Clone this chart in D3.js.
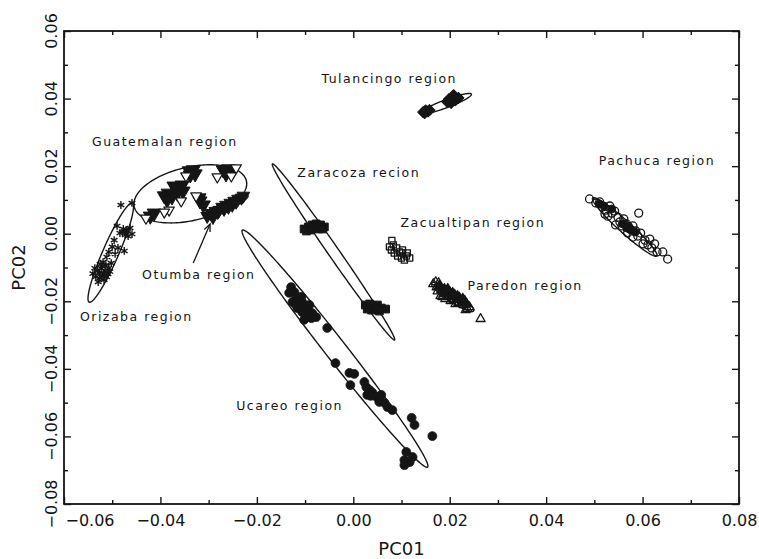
<!DOCTYPE html>
<html>
<head>
<meta charset="utf-8">
<script src="https://cdn.jsdelivr.net/npm/d3@7"></script>
<style>
  body { margin: 0; background: #fff; }
  svg { display: block; }
</style>
</head>
<body>
<svg id="chart" width="759" height="559"></svg>
<script>
// ---- Axis ticks ----
const xMajorTicks = [-0.06, -0.04, -0.02, 0.00, 0.02, 0.04, 0.06, 0.08];
const xMinorTicks = [-0.05, -0.03, -0.01, 0.01, 0.03, 0.05, 0.07];
const yMajorTicks = [-0.08, -0.06, -0.04, -0.02, 0.00, 0.02, 0.04, 0.06];
const yMinorTicks = [-0.07, -0.05, -0.03, -0.01, 0.01, 0.03, 0.05];

// ---- PC scores per source region: [PC01, PC02] ----
const orizaba = [
  [-0.0482, 0.0085], [-0.0459, 0.0091], [-0.0490, 0.0023], [-0.0477, 0.0014], [-0.0469, 0.0008],
  [-0.0463, 0.0017], [-0.0473, -0.0004], [-0.0484, 0.0002], [-0.0459, -0.0001], [-0.0467, -0.0007],
  [-0.0496, -0.0019], [-0.0500, -0.0039], [-0.0488, -0.0042], [-0.0475, -0.0051], [-0.0507, -0.0054],
  [-0.0494, -0.0060], [-0.0511, -0.0069], [-0.0519, -0.0084], [-0.0513, -0.0093], [-0.0507, -0.0102],
  [-0.0523, -0.0102], [-0.0515, -0.0110], [-0.0527, -0.0116], [-0.0521, -0.0125], [-0.0534, -0.0128],
  [-0.0502, -0.0087], [-0.0529, -0.0143], [-0.0517, -0.0137], [-0.0536, -0.0102], [-0.0509, -0.0119],
  [-0.0525, -0.0090], [-0.0530, -0.0110], [-0.0518, -0.0118], [-0.0512, -0.0128], [-0.0540, -0.0118],
  [-0.0505, -0.0112], [-0.0471, 0.0011], [-0.0479, 0.0005], [-0.0520, -0.0096], [-0.0526, -0.0132]
];
const guatemalanFilled = [
  [-0.0340, 0.0186], [-0.0332, 0.0189], [-0.0328, 0.0177], [-0.0338, 0.0174], [-0.0270, 0.0189],
  [-0.0259, 0.0192], [-0.0251, 0.0183], [-0.0264, 0.0177], [-0.0392, 0.0112], [-0.0384, 0.0120],
  [-0.0376, 0.0109], [-0.0386, 0.0100], [-0.0367, 0.0132], [-0.0359, 0.0138], [-0.0353, 0.0126],
  [-0.0365, 0.0120], [-0.0372, 0.0141], [-0.0318, 0.0097], [-0.0311, 0.0085], [-0.0320, 0.0106],
  [-0.0421, 0.0052], [-0.0413, 0.0061], [-0.0355, 0.0144]
];
const guatemalanOpen = [
  [-0.0243, 0.0195], [-0.0282, 0.0168], [-0.0253, 0.0171], [-0.0326, 0.0112], [-0.0357, 0.0097],
  [-0.0382, 0.0070], [-0.0392, 0.0064], [-0.0430, 0.0046], [-0.0347, 0.0171]
];
const otumba = [
  [-0.0303, 0.0052], [-0.0295, 0.0061], [-0.0286, 0.0067], [-0.0278, 0.0070], [-0.0272, 0.0079],
  [-0.0264, 0.0085], [-0.0255, 0.0091], [-0.0247, 0.0097], [-0.0239, 0.0103], [-0.0232, 0.0106],
  [-0.0291, 0.0049], [-0.0268, 0.0073], [-0.0251, 0.0085], [-0.0228, 0.0112], [-0.0259, 0.0079],
  [-0.0243, 0.0094], [-0.0281, 0.0064]
];
const zaragoza = [
  [-0.0102, 0.0014], [-0.0093, 0.0020], [-0.0085, 0.0026], [-0.0077, 0.0029], [-0.0068, 0.0026],
  [-0.0060, 0.0020], [-0.0089, 0.0011], [-0.0072, 0.0014], [-0.0064, 0.0014], [-0.0097, 0.0008],
  [-0.0081, 0.0017],
  [0.0025, -0.0211], [0.0034, -0.0208], [0.0042, -0.0214], [0.0050, -0.0211], [0.0058, -0.0220],
  [0.0067, -0.0223], [0.0038, -0.0226], [0.0046, -0.0223], [0.0029, -0.0223], [0.0054, -0.0229]
];
const ucareo = [
  [-0.0129, -0.0158], [-0.0133, -0.0175], [-0.0122, -0.0173], [-0.0118, -0.0190], [-0.0112, -0.0205],
  [-0.0106, -0.0202], [-0.0116, -0.0220], [-0.0106, -0.0232], [-0.0095, -0.0226], [-0.0097, -0.0247],
  [-0.0087, -0.0250], [-0.0077, -0.0247], [-0.0108, -0.0187], [-0.0126, -0.0202], [-0.0085, -0.0235],
  [-0.0091, -0.0211], [-0.0102, -0.0255], [-0.0054, -0.0279], [-0.0037, -0.0383], [-0.0008, -0.0412],
  [0.0002, -0.0415], [-0.0006, -0.0448], [0.0023, -0.0439], [0.0027, -0.0454], [0.0034, -0.0463],
  [0.0040, -0.0471], [0.0048, -0.0483], [0.0029, -0.0477], [0.0054, -0.0498], [0.0065, -0.0501],
  [0.0071, -0.0513], [0.0081, -0.0522], [0.0058, -0.0477], [0.0121, -0.0545], [0.0127, -0.0566],
  [0.0164, -0.0599], [0.0110, -0.0646], [0.0106, -0.0670], [0.0117, -0.0676], [0.0106, -0.0685],
  [0.0123, -0.0661], [-0.0114, -0.0196], [-0.0100, -0.0217], [-0.0120, -0.0208], [0.0036, -0.0480]
];
const tulancingo = [
  [0.0145, 0.0360], [0.0150, 0.0365], [0.0155, 0.0362], [0.0148, 0.0357], [0.0158, 0.0366],
  [0.0195, 0.0390], [0.0200, 0.0395], [0.0205, 0.0400], [0.0210, 0.0405], [0.0212, 0.0395],
  [0.0203, 0.0387], [0.0218, 0.0402], [0.0208, 0.0410], [0.0198, 0.0398]
];
const zacualtipan = [
  [0.0083, -0.0033], [0.0079, -0.0048], [0.0090, -0.0042], [0.0096, -0.0054], [0.0085, -0.0057],
  [0.0102, -0.0057], [0.0092, -0.0066], [0.0110, -0.0066], [0.0100, -0.0072], [0.0117, -0.0072],
  [0.0106, -0.0078], [0.0075, -0.0039], [0.0112, -0.0057], [0.0102, -0.0048], [0.0080, -0.0020]
];
const paredonOpen = [
  [0.0166, -0.0149], [0.0173, -0.0158], [0.0175, -0.0170], [0.0187, -0.0178], [0.0198, -0.0187],
  [0.0208, -0.0196], [0.0218, -0.0205], [0.0229, -0.0211], [0.0241, -0.0217], [0.0237, -0.0223],
  [0.0181, -0.0184], [0.0191, -0.0193], [0.0171, -0.0143], [0.0177, -0.0146], [0.0233, -0.0226],
  [0.0212, -0.0208], [0.0202, -0.0199], [0.0185, -0.0187], [0.0264, -0.0252]
];
const paredonFilled = [
  [0.0179, -0.0155], [0.0183, -0.0167], [0.0189, -0.0164], [0.0193, -0.0175], [0.0200, -0.0173],
  [0.0204, -0.0184], [0.0210, -0.0181], [0.0214, -0.0193], [0.0220, -0.0190], [0.0225, -0.0202],
  [0.0231, -0.0199], [0.0235, -0.0208], [0.0196, -0.0164], [0.0206, -0.0176], [0.0216, -0.0185],
  [0.0227, -0.0193]
];
const pachucaOpen = [
  [0.0490, 0.0103], [0.0503, 0.0091], [0.0511, 0.0094], [0.0517, 0.0079], [0.0524, 0.0070],
  [0.0532, 0.0082], [0.0536, 0.0061], [0.0528, 0.0052], [0.0542, 0.0067], [0.0549, 0.0049],
  [0.0553, 0.0035], [0.0561, 0.0044], [0.0557, 0.0023], [0.0567, 0.0029], [0.0574, 0.0014],
  [0.0580, 0.0023], [0.0586, 0.0008], [0.0569, 0.0002], [0.0590, -0.0007], [0.0596, 0.0002],
  [0.0605, -0.0019], [0.0601, -0.0030], [0.0611, -0.0033], [0.0619, -0.0042], [0.0625, -0.0030],
  [0.0630, -0.0054], [0.0642, -0.0054], [0.0652, -0.0075], [0.0592, 0.0061], [0.0544, 0.0026],
  [0.0522, 0.0058], [0.0580, -0.0010], [0.0615, -0.0016]
];
const pachucaFilled = [
  [0.0567, 0.0017], [0.0576, 0.0011], [0.0559, 0.0029], [0.0536, 0.0073], [0.0584, 0.0005],
  [0.0520, 0.0082], [0.0571, 0.0022], [0.0510, 0.0088]
];

// ---- Group ellipses: centre and two conjugate half-axes, in PC units ----
const ellipseRegion = ["Guatemalan", "Otumba", "Orizaba", "Zaragoza", "Ucareo", "Tulancingo", "Paredon", "Pachuca"];
const ellipseCentre = [[-0.0338, 0.0118], [-0.0264, 0.0082], [-0.0503, -0.0056], [-0.0041, -0.0054],
                       [-0.0038, -0.0340], [0.0193, 0.0385], [0.0206, -0.0187], [0.0563, 0.0020]];
const ellipseMajor  = [[0.01163, 0.00385], [0.00457, 0.00296], [0.00447, 0.01465], [0.01267, -0.02605],
                       [0.01921, -0.03507], [0.0052, 0.0028], [0.00436, -0.00414], [0.00665, -0.00858]];
const ellipseMinor  = [[0.00125, -0.0077], [0.00034, -0.00107], [0.00152, -0.00095], [0.00093, 0.00092],
                       [0.00172, 0.00192], [0.0003, -0.0011], [-0.00058, -0.00124], [-0.00083, -0.0013]];

// ---- Region names and where they are written (PC units, text start / baseline) ----
const labelText = ["Tulancingo region", "Guatemalan region", "Zaracoza recion", "Zacualtipan region",
                   "Pachuca region", "Paredon region", "Otumba region", "Orizaba region", "Ucareo region"];
const labelAnchor = [[-0.0066, 0.0446], [-0.0542, 0.0260], [-0.0116, 0.0168], [0.0098, 0.0020],
                     [0.0509, 0.0203], [0.0237, -0.0167], [-0.0438, -0.0134], [-0.0567, -0.0258],
                     [-0.0243, -0.0522]];
const otumbaArrow = [[-0.0332, -0.0087], [-0.0297, 0.0029]];

// ---- Layout ----
const INK = "#151515";
const svg = d3.select("#chart");
const x = d3.scaleLinear().domain([-0.06, 0.08]).range([64, 739]);
const y = d3.scaleLinear().domain([-0.08, 0.06]).range([504, 31]);
const [x0, x1] = x.range();
const [y0, y1] = y.range();

svg.append("rect").attr("width", 759).attr("height", 559).attr("fill", "#fff");

// ---- Ellipses ----
const ellipseLine = d3.line().curve(d3.curveLinearClosed);
ellipseRegion.forEach((name, i) => {
  const [cx, cy] = ellipseCentre[i], [ux, uy] = ellipseMajor[i], [vx, vy] = ellipseMinor[i];
  const pts = d3.range(0, 2 * Math.PI, Math.PI / 90).map(t => [
    x(cx + ux * Math.cos(t) + vx * Math.sin(t)),
    y(cy + uy * Math.cos(t) + vy * Math.sin(t))
  ]);
  svg.append("path").attr("class", "ellipse " + name)
    .attr("d", ellipseLine(pts))
    .attr("fill", "none").attr("stroke", INK).attr("stroke-width", 1.4);
});

// ---- Point groups ----
const groups = [
  { pts: orizaba, type: d3.symbolAsterisk, size: 42, fill: "none", stroke: INK, sw: 1.4, rot: 0 },
  { pts: guatemalanFilled, type: d3.symbolTriangle, size: 85, fill: INK, stroke: INK, sw: 1, rot: 180 },
  { pts: otumba, type: d3.symbolTriangle, size: 70, fill: INK, stroke: INK, sw: 1, rot: 180 },
  { pts: guatemalanOpen, type: d3.symbolTriangle, size: 48, fill: "#fff", stroke: INK, sw: 1.2, rot: 180 },
  { pts: zaragoza, type: d3.symbolSquare, size: 60, fill: INK, stroke: INK, sw: 1, rot: 0 },
  { pts: ucareo, type: d3.symbolCircle, size: 62, fill: INK, stroke: INK, sw: 0.8, rot: 0 },
  { pts: tulancingo, type: d3.symbolSquare, size: 60, fill: INK, stroke: INK, sw: 1, rot: 45 },
  { pts: zacualtipan, type: d3.symbolSquare, size: 38, fill: "none", stroke: INK, sw: 1.3, rot: 0 },
  { pts: paredonFilled, type: d3.symbolTriangle, size: 42, fill: INK, stroke: INK, sw: 1.2, rot: 0 },
  { pts: paredonOpen, type: d3.symbolTriangle, size: 36, fill: "none", stroke: INK, sw: 1.3, rot: 0 },
  { pts: pachucaFilled, type: d3.symbolCircle, size: 50, fill: INK, stroke: INK, sw: 0.8, rot: 0 },
  { pts: pachucaOpen, type: d3.symbolCircle, size: 50, fill: "none", stroke: INK, sw: 1.3, rot: 0 }
];
groups.forEach(g => {
  const sym = d3.symbol().type(g.type).size(g.size);
  svg.append("g").selectAll("path").data(g.pts).join("path")
    .attr("d", sym)
    .attr("transform", d => `translate(${x(d[0])},${y(d[1])}) rotate(${g.rot})`)
    .attr("fill", g.fill).attr("stroke", g.stroke).attr("stroke-width", g.sw)
    .attr("stroke-linejoin", "round");
});

// ---- Region labels and arrow ----
svg.append("g").selectAll("text").data(labelText).join("text")
  .attr("x", (d, i) => x(labelAnchor[i][0]))
  .attr("y", (d, i) => y(labelAnchor[i][1]))
  .attr("font-family", "DejaVu Sans")
  .attr("font-size", 12.5).attr("letter-spacing", 1.5)
  .attr("fill", INK)
  .text(d => d);

const ax0 = x(otumbaArrow[0][0]), ay0 = y(otumbaArrow[0][1]);
const ax1 = x(otumbaArrow[1][0]), ay1 = y(otumbaArrow[1][1]);
svg.append("line").attr("x1", ax0).attr("y1", ay0).attr("x2", ax1).attr("y2", ay1)
  .attr("stroke", INK).attr("stroke-width", 1.3);
const ang = Math.atan2(ay1 - ay0, ax1 - ax0);
const head = [ang - 0.4, ang + 0.4].map(a => [ax1 - 8 * Math.cos(a), ay1 - 8 * Math.sin(a)]);
svg.append("path").attr("d", `M${head[0]}L${ax1},${ay1}L${head[1]}`)
  .attr("fill", "none").attr("stroke", INK).attr("stroke-width", 1.3);

// ---- Frame and inward ticks on all four sides ----
const fmt = d3.format(".2f");
function tickAxis(axis, tx, ty, values, len, labels) {
  const g = svg.append("g").attr("transform", `translate(${tx},${ty})`)
    .call(axis.tickValues(values).tickSize(-len).tickPadding(11)
      .tickFormat(labels ? fmt : () => ""));
  g.select(".domain").remove();
  g.selectAll("line").attr("stroke", INK).attr("stroke-width", 1.4);
  g.selectAll("text").attr("font-family", "DejaVu Sans").attr("font-size", 16).attr("fill", INK);
  return g;
}
const bottom = tickAxis(d3.axisBottom(x), 0, y0, xMajorTicks, 7, true);
tickAxis(d3.axisBottom(x), 0, y0, xMinorTicks, 4, false);
tickAxis(d3.axisTop(x), 0, y1, xMajorTicks, 7, false);
tickAxis(d3.axisTop(x), 0, y1, xMinorTicks, 4, false);
tickAxis(d3.axisLeft(y), x0, 0, yMajorTicks, 7, false);
tickAxis(d3.axisLeft(y), x0, 0, yMinorTicks, 4, false);
tickAxis(d3.axisRight(y), x1, 0, yMajorTicks, 7, false);
tickAxis(d3.axisRight(y), x1, 0, yMinorTicks, 4, false);

// leftmost x label sits inside the frame so it clears the y labels
bottom.selectAll(".tick").filter(d => d === xMajorTicks[0]).select("text")
  .attr("text-anchor", "start").attr("x", 1);

// rotated y tick labels
svg.append("g").selectAll("text").data(yMajorTicks).join("text")
  .attr("transform", d => `translate(57,${y(d)}) rotate(-90)`)
  .attr("text-anchor", "middle")
  .attr("font-family", "DejaVu Sans").attr("font-size", 16).attr("fill", INK)
  .text(d => fmt(d));

svg.append("rect").attr("x", x0).attr("y", y1).attr("width", x1 - x0).attr("height", y0 - y1)
  .attr("fill", "none").attr("stroke", INK).attr("stroke-width", 1.8);

// ---- Axis titles ----
svg.append("text").attr("x", (x0 + x1) / 2).attr("y", 555).attr("text-anchor", "middle")
  .attr("font-family", "DejaVu Sans").attr("font-size", 18).attr("fill", INK).text("PC01");
svg.append("text").attr("transform", `translate(25,${(y0 + y1) / 2}) rotate(-90)`)
  .attr("text-anchor", "middle")
  .attr("font-family", "DejaVu Sans").attr("font-size", 18).attr("fill", INK).text("PC02");
</script>
</body>
</html>
